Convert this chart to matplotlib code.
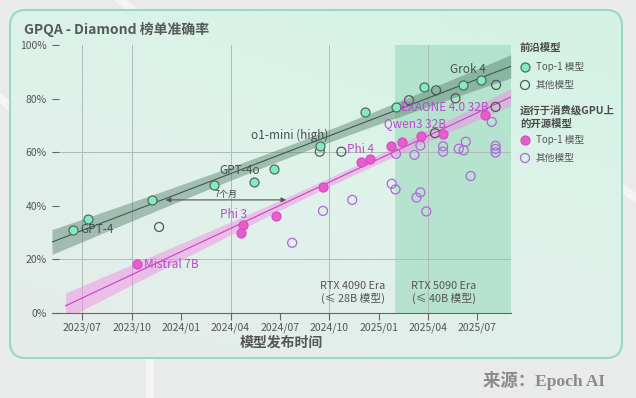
import numpy as np
import matplotlib
matplotlib.use("Agg")
import matplotlib.pyplot as plt
import matplotlib.dates as mdates
from matplotlib.patches import FancyBboxPatch
from matplotlib.colors import LinearSegmentedColormap

plt.rcParams['font.family'] = ['Noto Sans CJK SC', 'DejaVu Sans']

# Frontier models, top-1 at release
frontier_top_dates = ['2023-06-15', '2023-07-12', '2023-11-07', '2024-03-02', '2024-05-15', '2024-06-21',
                      '2024-09-13', '2024-12-06', '2025-02-01', '2025-03-24', '2025-06-04', '2025-07-08']
frontier_top_vals = [31.1, 35.0, 42.1, 47.6, 49.0, 53.9, 62.4, 75.0, 77.0, 84.2, 85.1, 86.8]

# Frontier models, others
frontier_other_dates = ['2023-11-21', '2024-09-13', '2024-10-23', '2025-02-25', '2025-04-16', '2025-05-22',
                        '2025-08-05', '2025-08-04', '2025-04-14']
frontier_other_vals = [32.1, 60.2, 60.2, 79.4, 83.1, 80.1, 85.1, 76.9, 67.1]

# Open models runnable on a consumer GPU, top-1
consumer_top_dates = ['2023-10-11', '2024-04-24', '2024-04-20', '2024-06-24', '2024-09-19', '2024-11-29',
                      '2024-12-14', '2025-01-23', '2025-02-12', '2025-03-19', '2025-04-29', '2025-07-15']
consumer_top_vals = [18.2, 33.0, 29.8, 36.1, 47.0, 56.2, 57.4, 62.2, 63.7, 66.2, 66.8, 74.0]

# Open models runnable on a consumer GPU, others
consumer_other_dates = ['2024-07-24', '2024-09-19', '2024-11-12', '2025-01-24', '2025-01-31', '2025-03-18',
                        '2025-03-11', '2025-03-29', '2025-02-01', '2025-03-07', '2025-03-18', '2025-04-29',
                        '2025-04-29', '2025-05-28', '2025-06-06', '2025-06-10', '2025-06-19', '2025-07-28',
                        '2025-08-04', '2025-08-04', '2025-08-04']
consumer_other_vals = [26.2, 38.1, 42.2, 48.2, 46.1, 45.0, 43.1, 37.9, 59.4, 59.0, 62.5, 62.2,
                       60.2, 61.3, 60.7, 63.9, 51.1, 71.3, 62.4, 61.2, 59.9]

# labelled models
label_names = ['GPT-4', 'GPT-4o', 'o1-mini (high)', 'Grok 4', 'Mistral 7B', 'Phi 3', 'Phi 4', 'Qwen3 32B', 'EXAONE 4.0 32B']
label_dates = ['2023-06-15', '2024-05-15', '2024-09-13', '2025-07-08', '2023-10-11', '2024-04-24', '2024-12-14',
               '2025-04-29', '2025-07-15']
label_vals = [31.1, 49.0, 62.4, 86.8, 18.2, 33.0, 57.4, 66.8, 74.0]

xtick_dates = ['2023-07-01', '2023-10-01', '2024-01-01', '2024-04-01', '2024-07-01',
               '2024-10-01', '2025-01-01', '2025-04-01', '2025-07-01']
grid_dates = ['2023-07-01', '2023-10-01', '2024-04-01', '2024-10-01', '2025-04-01']
rtx5090_start = '2025-01-31'
x_start, x_end = '2023-05-07', '2025-09-01'
consumer_fit_start = '2023-06-01'
gap_start, gap_end, gap_level = '2023-11-28', '2024-07-18', 42.2


def dnum(lst):
    return mdates.date2num(np.array(lst, dtype='datetime64[D]'))


def fit_band(xd, yv, xs):
    # OLS line + 95% confidence band of the mean
    n = len(xd)
    b, a = np.polyfit(xd, yv, 1)
    res = yv - (a + b * xd)
    s = np.sqrt(np.sum(res ** 2) / (n - 2))
    sxx = np.sum((xd - xd.mean()) ** 2)
    se = s * np.sqrt(1.0 / n + (xs - xd.mean()) ** 2 / sxx)
    yhat = a + b * xs
    return yhat, 2.228 * se


fig = plt.figure(figsize=(6.36, 3.98), dpi=100)
fig.patch.set_facecolor('#e9eaea')

# background panel with a soft gradient
bg = fig.add_axes([0, 0, 1, 1], zorder=-10)
bg.set_xlim(0, 636)
bg.set_ylim(0, 398)
bg.axis('off')
for p in [[(120, 398), (300, 250)], [(450, 330), (636, 200)], [(150, 0), (150, 110)], [(0, 300), (60, 250)]]:
    bg.plot([p[0][0], p[1][0]], [p[0][1], p[1][1]], color='white', lw=6, alpha=0.5, zorder=1)
panel = FancyBboxPatch((10, 40), 612, 348, boxstyle='round,pad=0,rounding_size=16',
                       facecolor='none', edgecolor='#8fd6c4', lw=1.3, zorder=3)
bg.add_patch(panel)
gx, gy = np.meshgrid(np.linspace(0, 1, 200), np.linspace(0, 1, 200))
grad = np.clip(0.65 * gy + 0.35 * gx, 0, 1)
im = bg.imshow(grad, extent=[10, 622, 40, 388], origin='lower', aspect='auto', zorder=2,
               cmap=LinearSegmentedColormap.from_list('p', ['#e6ebea', '#dff2ea', '#d3f2e4']))
im.set_clip_path(panel)

ax = fig.add_axes([52 / 636, 85 / 398, 458.7 / 636, 268 / 398])
ax.patch.set_alpha(0)

xmin, xmax = dnum([x_start, x_end])
ax.set_xlim(xmin, xmax)
ax.set_ylim(0, 100)

# RTX 5090 era shading
ax.axvspan(dnum([rtx5090_start])[0], xmax, color='#9cd9be', alpha=0.6, lw=0, zorder=0)
for g in dnum(grid_dates):
    ax.axvline(g, color='#aebbb6', lw=0.7, zorder=0.5)
for g in [20, 60]:
    ax.axhline(g, color='#aebbb6', lw=0.7, zorder=0.5)

ax.text(dnum(['2024-11-13'])[0], 7.6, 'RTX 4090 Era\n(≤ 28B 模型)', ha='center', va='center',
        fontsize=7.8, color='#555555', linespacing=1.2)
ax.text(dnum(['2025-04-30'])[0], 7.6, 'RTX 5090 Era\n(≤ 40B 模型)', ha='center', va='center',
        fontsize=7.8, color='#555555', linespacing=1.2)

# trend lines with confidence bands
fx = dnum(frontier_top_dates)
fy = np.array(frontier_top_vals)
xs_f = np.linspace(xmin, xmax, 200)
yf, bf = fit_band(fx, fy, xs_f)
ax.fill_between(xs_f, yf - bf, yf + bf, color='#557e6c', alpha=0.45, lw=0, zorder=1)
ax.plot(xs_f, yf, color='#3f5a4e', lw=0.8, zorder=2)

cx = dnum(consumer_top_dates)
cy = np.array(consumer_top_vals)
xs_c = np.linspace(dnum([consumer_fit_start])[0], xmax, 200)
yc, bc = fit_band(cx, cy, xs_c)
ax.fill_between(xs_c, yc - bc, yc + bc, color='#f190e4', alpha=0.5, lw=0, zorder=1)
ax.plot(xs_c, yc, color='#cc3fc4', lw=0.8, zorder=2)

# points
ms = 42
ax.scatter(dnum(frontier_other_dates), frontier_other_vals, s=ms, facecolor='none',
           edgecolor='#4c5c56', lw=0.9, zorder=4)
ax.scatter(fx, fy, s=ms, facecolor='#84eac4', edgecolor='#4e6e60', lw=0.9, zorder=5)
ax.scatter(dnum(consumer_other_dates), consumer_other_vals, s=ms, facecolor='none',
           edgecolor='#b068d8', lw=0.9, zorder=4)
ax.scatter(cx, cy, s=ms, facecolor='#e85ccc', edgecolor='#d84cc4', lw=0.9, zorder=5)

# labels (offsets in pixels)
offsets = [(7, 0), (-35, 11), (-69, 10), (-31, 11), (7, 0), (-23, 10), (-23, 10), (-59, 10), (-84, 7)]
for i, name in enumerate(label_names):
    col = '#45504c' if i < 4 else '#b84ccc'
    ax.annotate(name, (dnum([label_dates[i]])[0], label_vals[i]), xytext=offsets[i],
                textcoords='offset pixels', fontsize=8.5, color=col, zorder=6, va='center')

# gap arrow
g0, g1 = dnum([gap_start, gap_end])
ax.annotate('', xy=(g0, gap_level), xytext=(g1, gap_level),
            arrowprops=dict(arrowstyle='<|-|>', color='#555555', lw=0.8, mutation_scale=7), zorder=6)
ax.text((g0 + g1) / 2, gap_level + 0.2, '7个月', ha='center', va='bottom', fontsize=6.5, color='#444444')

# axes styling
ax.set_xticks(dnum(xtick_dates))
ax.xaxis.set_major_formatter(mdates.DateFormatter('%Y/%m'))
ax.set_yticks([0, 20, 40, 60, 80, 100])
ax.set_yticklabels(['0%', '20%', '40%', '60%', '80%', '100%'])
ax.tick_params(axis='x', length=5, width=0.8, color='#666666', labelsize=7.5, labelcolor='#555555', pad=1.5)
ax.tick_params(axis='y', direction='in', length=5, width=0.8, color='#666666', labelsize=7.5,
               labelcolor='#555555', pad=4)
for sp in ['top', 'right', 'left']:
    ax.spines[sp].set_visible(False)
ax.spines['bottom'].set_color('#666666')
ax.spines['bottom'].set_linewidth(0.8)
ax.set_xlabel('模型发布时间', fontsize=10, fontweight='bold', color='#555555', labelpad=2)

fig.text(24, 369, 'GPQA - Diamond 榜单准确率', transform=None, fontsize=10, fontweight='bold',
         color='#555a58', va='center')

# legend
fig.text(520 / 636, 1 - 48 / 398, '前沿模型', fontsize=7.5, fontweight='bold', color='#4a4a4a', va='center')
fig.text(520 / 636, 1 - 117 / 398, '运行于消费级GPU上\n的开源模型', fontsize=7.5, fontweight='bold',
         color='#4a4a4a', va='center', linespacing=1.3)
leg_rows = [(67, '#84eac4', '#4e6e60', 'Top-1 模型'), (85, 'none', '#4c5c56', '其他模型'),
            (140, '#e85ccc', '#d84cc4', 'Top-1 模型'), (158, 'none', '#b068d8', '其他模型')]
for yy, fc, ec, txt in leg_rows:
    bg.scatter([525], [398 - yy], s=ms, facecolor=fc, edgecolor=ec, lw=0.9, zorder=5)
    fig.text(536 / 636, 1 - yy / 398, txt, fontsize=7, color='#555555', va='center')

fig.text(605 / 636, 1 - 380 / 398, '来源：Epoch AI', ha='right', va='center', fontsize=12.5,
         fontweight='bold', color='#8a8a8a', family=['Liberation Serif', 'Noto Sans CJK SC'])

fig.savefig('out.png', dpi=100)
